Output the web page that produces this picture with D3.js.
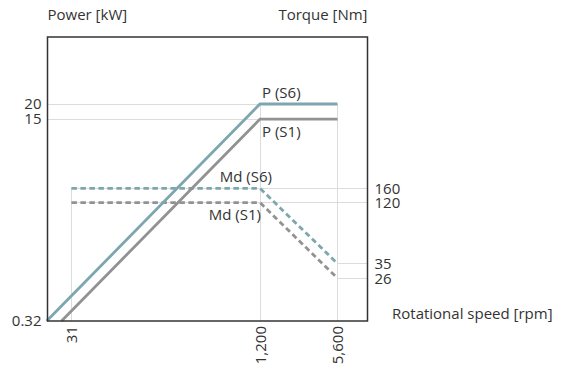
<!DOCTYPE html>
<html>
<head>
<meta charset="utf-8">
<script src="https://cdn.jsdelivr.net/npm/d3@7/dist/d3.min.js"></script>
<style>
  html, body { margin: 0; padding: 0; background: #fff; }
  text { font-family: "Open Sans", "Noto Sans", sans-serif; fill: #333; }
</style>
</head>
<body>
<svg id="chart" width="571" height="369"></svg>
<script>
// ---- data ----
const speedTicks = [31, 1200, 5600];
const powerTicks = [0.32, 15, 20];
const torqueTicks = [26, 35, 120, 160];

const pS6Speed = [19.2, 1200, 5600];
const pS6Power = [0.32, 20, 20];
const pS1Speed = [25.6, 1200, 5600];
const pS1Power = [0.32, 15, 15];
const mdSpeed = [31, 1200, 5600];
const mdS6Torque = [160, 160, 35];
const mdS1Torque = [120, 120, 26];

const seriesLabels = ["P (S6)", "P (S1)", "Md (S6)", "Md (S1)"];

// ---- layout ----
const L = 47.5, R = 367.5, T = 37, B = 321;
const teal = "#7da6ae", grey = "#929292", gridC = "#dcdcdc", frameC = "#333";

const svg = d3.select("#chart");

const x = d3.scaleLog().domain(speedTicks).range([71.4, 260, 337.5]);
const yP = d3.scaleLog().domain([0.32, 20]).range([B, 104]);
const yM = d3.scaleLog().domain([26, 160]).range([278.3, 188.3]);

// ---- gridlines ----
const grid = svg.append("g").attr("stroke", gridC).attr("stroke-width", 1).attr("shape-rendering", "crispEdges");
// vertical
grid.append("line").attr("x1", x(31)).attr("x2", x(31)).attr("y1", B).attr("y2", yM(160));
[1200, 5600].forEach(s => grid.append("line").attr("x1", x(s)).attr("x2", x(s)).attr("y1", B).attr("y2", yP(20)));
// power horizontals
[15, 20].forEach(p => grid.append("line").attr("x1", L).attr("x2", x(5600)).attr("y1", yP(p)).attr("y2", yP(p)));
// torque horizontals
[120, 160].forEach(m => grid.append("line").attr("x1", x(31)).attr("x2", R).attr("y1", yM(m)).attr("y2", yM(m)));
[26, 35].forEach(m => grid.append("line").attr("x1", x(5600)).attr("x2", R).attr("y1", yM(m)).attr("y2", yM(m)));

// ---- lines ----
const lineP = d3.line().x(d => x(d[0])).y(d => yP(d[1]));
const lineM = d3.line().x(d => x(d[0])).y(d => yM(d[1]));
const zip = (a, b) => a.map((v, i) => [v, b[i]]);

svg.append("path").datum(zip(mdSpeed, mdS1Torque)).attr("d", lineM)
  .attr("fill", "none").attr("stroke", grey).attr("stroke-width", 2.8).attr("stroke-dasharray", "5.5,3.5");
svg.append("path").datum(zip(mdSpeed, mdS6Torque)).attr("d", lineM)
  .attr("fill", "none").attr("stroke", teal).attr("stroke-width", 2.8).attr("stroke-dasharray", "5.5,3.5");
svg.append("path").datum(zip(pS1Speed, pS1Power)).attr("d", lineP)
  .attr("fill", "none").attr("stroke", grey).attr("stroke-width", 2.8);
svg.append("path").datum(zip(pS6Speed, pS6Power)).attr("d", lineP)
  .attr("fill", "none").attr("stroke", teal).attr("stroke-width", 2.8);

// ---- frame ----
svg.append("rect").attr("x", L).attr("y", T).attr("width", R - L).attr("height", B - T)
  .attr("fill", "none").attr("stroke", frameC).attr("stroke-width", 1.5);

// ---- axes ----
const fs = "15px";
const axL = svg.append("g").attr("transform", `translate(${L},0)`)
  .call(d3.axisLeft(yP).tickValues(powerTicks).tickSize(0).tickPadding(6).tickFormat(d => String(d)));
const axR = svg.append("g").attr("transform", `translate(${R},0)`)
  .call(d3.axisRight(yM).tickValues(torqueTicks).tickSize(0).tickPadding(7).tickFormat(d => String(d)));
const axB = svg.append("g").attr("transform", `translate(0,${B})`)
  .call(d3.axisBottom(x).tickValues(speedTicks).tickSize(0).tickFormat(d3.format(",")));
[axL, axR, axB].forEach(a => {
  a.select(".domain").remove();
  a.selectAll("text").attr("font-size", fs).attr("font-family", null).style("fill", "#333");
});
axB.selectAll("text").attr("transform", "rotate(-90)").attr("text-anchor", "end")
  .attr("x", -5).attr("y", 0).attr("dy", "0.35em");

// ---- axis titles ----
svg.append("text").attr("x", L).attr("y", 20).attr("font-size", fs).text("Power [kW]");
svg.append("text").attr("x", R).attr("y", 20).attr("font-size", fs).attr("text-anchor", "end").text("Torque [Nm]");
svg.append("text").attr("x", 392).attr("y", 319).attr("font-size", fs).text("Rotational speed [rpm]");

// ---- series labels ----
svg.append("text").attr("x", x(1200) + 2).attr("y", yP(20) - 6).attr("font-size", fs).text(seriesLabels[0]);
svg.append("text").attr("x", x(1200) + 2).attr("y", yP(15) + 18).attr("font-size", fs).text(seriesLabels[1]);
svg.append("text").attr("x", x(1200) + 12).attr("y", yM(160) - 6).attr("font-size", fs).attr("text-anchor", "end").text(seriesLabels[2]);
svg.append("text").attr("x", x(1200) + 1).attr("y", yM(120) + 17).attr("font-size", fs).attr("text-anchor", "end").text(seriesLabels[3]);
</script>
</body>
</html>
